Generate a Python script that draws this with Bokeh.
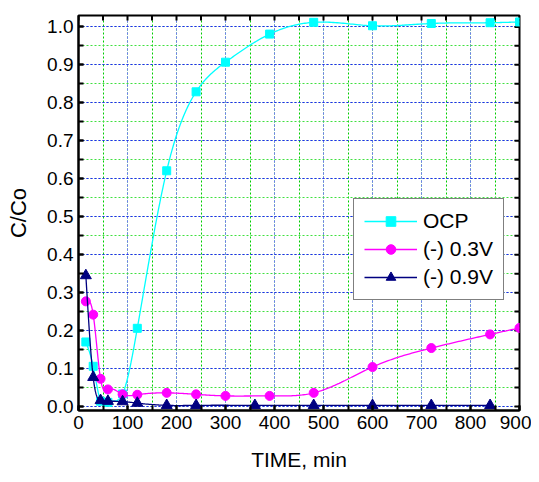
import numpy as np
from math import pi
from bokeh.plotting import figure
from bokeh.models import (SingleIntervalTicker, NumeralTickFormatter,
                          Legend, LegendItem, Range1d)
from bokeh.embed import file_html
from bokeh.resources import INLINE

# ---- data ----
t_ocp = [15, 30, 45, 60, 90, 120, 180, 240, 300, 390, 480, 600, 720, 840, 900]
c_ocp = [0.170, 0.106, 0.014, 0.011, 0.033, 0.206, 0.621, 0.829, 0.907, 0.981,
         1.012, 1.003, 1.009, 1.011, 1.013]

t_03 = [15, 30, 45, 60, 90, 120, 180, 240, 300, 390, 480, 600, 720, 840, 900]
c_03 = [0.277, 0.242, 0.073, 0.045, 0.032, 0.031, 0.036, 0.032, 0.028, 0.028,
        0.036, 0.104, 0.154, 0.190, 0.207]

t_09 = [15, 30, 45, 60, 90, 120, 180, 240, 360, 480, 600, 720, 840]
c_09 = [0.345, 0.077, 0.016, 0.014, 0.013, 0.009, 0.003, 0.003, 0.003, 0.003,
        0.003, 0.003, 0.003]

series_names = ["OCP", "(-) 0.3V", "(-) 0.9V"]
x_label = "TIME, min"
y_label = "C/Co"

X_START, X_END = 0, 900
Y_START, Y_END = -0.0105, 1.030


def natural_spline(x, y, per_seg=30):
    x = np.asarray(x, float)
    y = np.asarray(y, float)
    n = len(x)
    h = np.diff(x)
    A = np.zeros((n, n))
    b = np.zeros(n)
    A[0, 0] = 1.0
    A[-1, -1] = 1.0
    for i in range(1, n - 1):
        A[i, i - 1] = h[i - 1]
        A[i, i] = 2 * (h[i - 1] + h[i])
        A[i, i + 1] = h[i]
        b[i] = 3 * ((y[i + 1] - y[i]) / h[i] - (y[i] - y[i - 1]) / h[i - 1])
    c = np.linalg.solve(A, b)
    xs, ys = [], []
    for i in range(n - 1):
        bi = (y[i + 1] - y[i]) / h[i] - h[i] * (2 * c[i] + c[i + 1]) / 3
        di = (c[i + 1] - c[i]) / (3 * h[i])
        tt = np.linspace(0, h[i], per_seg, endpoint=(i == n - 2))
        xs.append(x[i] + tt)
        ys.append(y[i] + bi * tt + c[i] * tt ** 2 + di * tt ** 3)
    return np.concatenate(xs), np.concatenate(ys)


FONT = "Liberation Sans"

p = figure(width=531, height=480, output_backend="svg", toolbar_location=None,
           x_range=Range1d(X_START, X_END), y_range=Range1d(Y_START, Y_END),
           min_border_left=78, min_border_right=12, min_border_top=15,
           min_border_bottom=70, background_fill_color="white",
           border_fill_color="white", outline_line_color="black",
           outline_line_width=2)

xt = SingleIntervalTicker(interval=100, num_minor_ticks=2)
yt = SingleIntervalTicker(interval=0.1, num_minor_ticks=2)

p.xaxis.ticker = xt
p.yaxis.ticker = yt
p.yaxis.formatter = NumeralTickFormatter(format="0.0")

for ax in (p.xaxis[0], p.yaxis[0]):
    ax.axis_line_width = 2
    ax.axis_line_color = "black"
    ax.major_tick_in = 5
    ax.major_tick_out = 0
    ax.minor_tick_in = 5
    ax.minor_tick_out = 0
    ax.major_tick_line_width = 2
    ax.minor_tick_line_width = 2
    ax.major_label_text_font = FONT
    ax.major_label_text_font_size = "19px"
    ax.major_label_text_color = "black"
    ax.major_label_standoff = 5
    ax.axis_label_text_font = FONT
    ax.axis_label_text_font_style = "normal"
    ax.axis_label_text_color = "black"

p.xaxis.axis_label = x_label
p.xaxis.axis_label_text_font_size = "21px"
p.xaxis.axis_label_standoff = 16
p.yaxis.axis_label = y_label
p.yaxis.axis_label_text_font_size = "22px"
p.yaxis.axis_label_standoff = 13

p.xgrid.ticker = xt
p.ygrid.ticker = yt
p.xgrid.grid_line_color = "#7070ff"
p.xgrid.grid_line_dash = "2 2"
p.xgrid.minor_grid_line_color = "#00cc00"
p.xgrid.minor_grid_line_dash = "2 2"
p.ygrid.grid_line_color = "#2020ff"
p.ygrid.grid_line_dash = "2 2"
p.ygrid.minor_grid_line_color = "#40e040"
p.ygrid.minor_grid_line_dash = "2 2"

# inward ticks on the top and right frame edges (half of each dash is clipped)
top_ticks = np.arange(X_START, X_END + 1, 50)
right_ticks = np.arange(0.0, 1.0001, 0.05)
p.scatter(top_ticks, np.full(len(top_ticks), Y_END), marker="dash", size=10,
          angle=pi / 2, line_color="black", line_width=2)
p.scatter(np.full(len(right_ticks), X_END), right_ticks, marker="dash", size=10,
          line_color="black", line_width=2)

items = []
specs = [
    (t_ocp, c_ocp, "#00ffff", "square", 8),
    (t_03, c_03, "#ff00ff", "circle", 9),
    (t_09, c_09, "#000080", "triangle", 11),
]
for (tx, cy, col, mk, sz), name in zip(specs, series_names):
    sx, sy = natural_spline(tx, cy)
    lr = p.line(sx, sy, line_color=col, line_width=1.3)
    sr = p.scatter(tx, cy, marker=mk, size=sz, fill_color=col, line_color=col)
    items.append(LegendItem(label=name, renderers=[lr, sr]))

legend = Legend(items=items, location=(275, 110), margin=0, padding=10,
                spacing=4, glyph_width=53, glyph_height=24, label_standoff=6,
                label_text_font=FONT, label_text_font_size="21px",
                label_text_color="black", border_line_color="black",
                border_line_width=1, background_fill_color="white",
                background_fill_alpha=1.0)
p.add_layout(legend)

open("out.html", "w").write(file_html(p, INLINE))
